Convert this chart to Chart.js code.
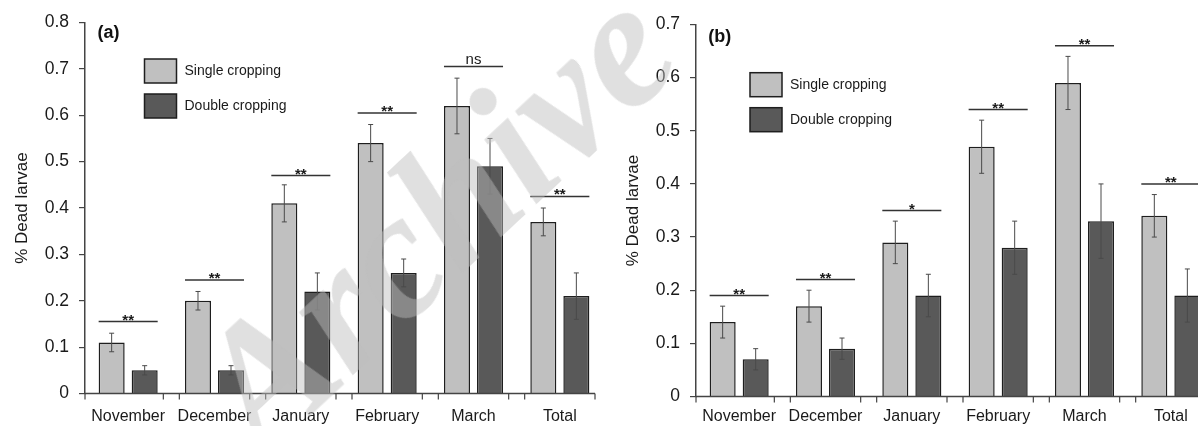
<!DOCTYPE html>
<html>
<head>
<meta charset="utf-8">
<script src="https://cdn.jsdelivr.net/npm/chart.js@4.4.1/dist/chart.umd.min.js"></script>
<style>
  html, body { margin: 0; padding: 0; background: #fff; overflow: hidden; width: 1198px; height: 426px; }
  .panel { position: absolute; top: 0; width: 620px; height: 426px; }
  #wm {
    position: absolute; left: 160px; top: 350px;
    transform: rotate(-43deg); transform-origin: 0 0;
    font: italic bold 180px "Liberation Serif", "DejaVu Serif", serif;
    line-height: 1; white-space: nowrap;
    color: rgba(189, 189, 189, 0.47);
    pointer-events: none;
  }
</style>
</head>
<body>
<div class="panel" style="left:0"><canvas id="chartA"></canvas></div>
<div class="panel" style="left:611px"><canvas id="chartB"></canvas></div>
<div id="wm">Archive</div>
<script>
var months = ['November', 'December', 'January', 'February', 'March', 'Total'];

// (a)
var singleA    = [0.11, 0.20, 0.41, 0.54, 0.62, 0.37];
var singleErrA = [0.02, 0.02, 0.04, 0.04, 0.06, 0.03];
var doubleA    = [0.05, 0.05, 0.22, 0.26, 0.49, 0.21];
var doubleErrA = [0.01, 0.01, 0.04, 0.03, 0.06, 0.05];
var sigLevelA  = [0.155, 0.245, 0.47, 0.605, 0.705, 0.425];
var sigTextA   = ['**', '**', '**', '**', 'ns', '**'];

// (b)
var singleB    = [0.14, 0.17, 0.29, 0.47, 0.59, 0.34];
var singleErrB = [0.03, 0.03, 0.04, 0.05, 0.05, 0.04];
var doubleB    = [0.07, 0.09, 0.19, 0.28, 0.33, 0.19];
var doubleErrB = [0.02, 0.02, 0.04, 0.05, 0.07, 0.05];
var sigLevelB  = [0.19, 0.22, 0.35, 0.54, 0.66, 0.40];
var sigTextB   = ['**', '**', '*', '**', '**', '**'];

Chart.defaults.font.family = '"Liberation Sans", Arial, sans-serif';
Chart.defaults.color = '#1a1a1a';

function decorPlugin(opt) {
  return {
    id: 'decor',
    afterDatasetsDraw: function (chart) {
      var ctx = chart.ctx;
      var ys = chart.scales.y;
      var xs = chart.scales.x;
      var m0 = chart.getDatasetMeta(0), m1 = chart.getDatasetMeta(1);
      ctx.save();

      // error bars
      [m0, m1].forEach(function (meta, i) {
        var ds = chart.data.datasets[i];
        meta.data.forEach(function (el, k) {
          var v = ds.data[k], e = ds.errors[k];
          var y1 = ys.getPixelForValue(v + e), y2 = ys.getPixelForValue(v - e);
          ctx.strokeStyle = '#4a4a4a';
          ctx.lineWidth = 1;
          ctx.beginPath();
          ctx.moveTo(el.x, y1); ctx.lineTo(el.x, y2);
          ctx.moveTo(el.x - 2.5, y1); ctx.lineTo(el.x + 2.5, y1);
          ctx.moveTo(el.x - 2.5, y2); ctx.lineTo(el.x + 2.5, y2);
          ctx.stroke();
        });
      });

      // significance lines
      opt.sigLevel.forEach(function (lv, k) {
        var a = m0.data[k], b = m1.data[k];
        var l = a.x - a.width / 2, r = b.x + b.width / 2;
        var y = ys.getPixelForValue(lv);
        ctx.strokeStyle = '#333';
        ctx.lineWidth = 1.5;
        ctx.beginPath();
        ctx.moveTo(l, y); ctx.lineTo(r, y);
        ctx.stroke();
        var t = opt.sigText[k];
        ctx.fillStyle = '#1a1a1a';
        ctx.textAlign = 'center';
        ctx.textBaseline = 'alphabetic';
        ctx.font = t === 'ns' ? '15px "Liberation Sans", Arial' : 'bold 15px "Liberation Sans", Arial';
        ctx.fillText(t, (l + r) / 2, t === 'ns' ? y - 3 : y + 3);
      });

      // x axis with paired ticks
      var n = chart.data.labels.length;
      var w = (xs.right - xs.left) / n;
      var yb = ys.bottom;
      ctx.strokeStyle = '#444';
      ctx.lineWidth = 1.5;
      ctx.beginPath();
      ctx.moveTo(xs.left, yb); ctx.lineTo(xs.right - 8, yb);
      ctx.stroke();
      var tx = [xs.left];
      for (var k = 1; k < n; k++) { tx.push(xs.left + k * w - 8, xs.left + k * w + 8); }
      tx.push(xs.right - 8);
      ctx.lineWidth = 1.2;
      ctx.beginPath();
      tx.forEach(function (x) { ctx.moveTo(x, yb); ctx.lineTo(x, yb + 6); });
      ctx.stroke();

      // legend
      chart.data.datasets.forEach(function (ds, i) {
        var by = opt.legY + i * 35;
        ctx.fillStyle = ds.backgroundColor;
        ctx.fillRect(opt.legX, by, 32, 24);
        ctx.strokeStyle = '#1e1e1e';
        ctx.lineWidth = 1.5;
        ctx.strokeRect(opt.legX, by, 32, 24);
        ctx.fillStyle = '#1a1a1a';
        ctx.font = '14px "Liberation Sans", Arial';
        ctx.textAlign = 'left';
        ctx.textBaseline = 'middle';
        ctx.fillText(ds.label, opt.legX + 40, by + 12);
      });

      // panel tag
      ctx.font = 'bold 18px "Liberation Sans", Arial';
      ctx.textAlign = 'left';
      ctx.textBaseline = 'middle';
      ctx.fillStyle = '#111';
      ctx.fillText(opt.tag, opt.tagX, opt.tagY);
      ctx.restore();
    }
  };
}

function panelChart(id, opt) {
  return new Chart(document.getElementById(id), {
    type: 'bar',
    data: {
      labels: months,
      datasets: [{
        label: 'Single cropping',
        data: opt.single,
        errors: opt.singleErr,
        backgroundColor: '#c0c0c0',
        borderColor: '#1e1e1e',
        borderWidth: 1.5,
        categoryPercentage: 0.765,
        barPercentage: 0.788
      }, {
        label: 'Double cropping',
        data: opt.double,
        errors: opt.doubleErr,
        backgroundColor: '#595959',
        borderColor: '#1e1e1e',
        borderWidth: 1.5,
        categoryPercentage: 0.765,
        barPercentage: 0.788
      }]
    },
    options: {
      responsive: true,
      maintainAspectRatio: false,
      animation: false,
      layout: { padding: { left: 0, right: 17, top: opt.top, bottom: 0 } },
      plugins: { legend: { display: false }, tooltip: { enabled: false } },
      scales: {
        x: {
          grid: { display: false, drawTicks: false },
          border: { display: false },
          ticks: { font: { size: 16 }, padding: opt.labelPad, maxRotation: 0, autoSkip: false },
          afterFit: function (s) { s.height = opt.xHeight; }
        },
        y: {
          min: 0,
          max: opt.max,
          ticks: { stepSize: 0.1, font: { size: 17.5 }, padding: 10 },
          grid: { drawOnChartArea: false, tickLength: 6, color: '#444', lineWidth: 1.2 },
          border: { color: '#444', width: 1.5 },
          title: { display: true, text: '% Dead larvae', font: { size: 17 }, padding: { top: 12, bottom: 0 } },
          afterFit: function (s) { s.width = 85; }
        }
      }
    },
    plugins: [decorPlugin(opt)]
  });
}

panelChart('chartA', {
  single: singleA, singleErr: singleErrA, double: doubleA, doubleErr: doubleErrA,
  sigLevel: sigLevelA, sigText: sigTextA,
  max: 0.8, top: 22.5, xHeight: 32.5, labelPad: 13,
  legX: 144.5, legY: 59, tag: '(a)', tagX: 97.5, tagY: 33.5
});

panelChart('chartB', {
  single: singleB, singleErr: singleErrB, double: doubleB, doubleErr: doubleErrB,
  sigLevel: sigLevelB, sigText: sigTextB,
  max: 0.7, top: 24.5, xHeight: 29.5, labelPad: 10,
  legX: 139, legY: 72.7, tag: '(b)', tagX: 97.3, tagY: 36.7
});
</script>
</body>
</html>
